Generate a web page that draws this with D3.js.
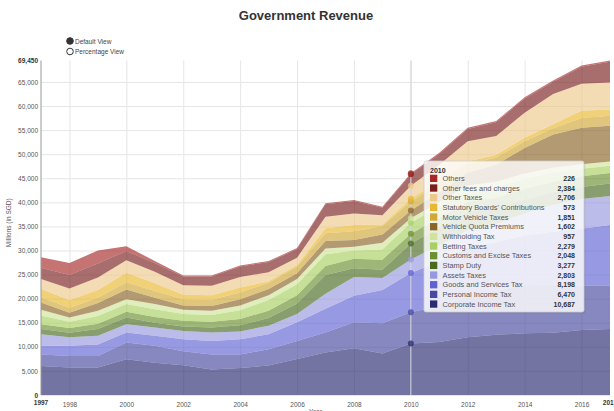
<!DOCTYPE html>
<html>
<head>
<meta charset="utf-8">
<script src="https://cdn.jsdelivr.net/npm/d3@7"></script>
<style>
  body { margin: 0; background: #fff; font-family: "Liberation Sans", Arial, sans-serif; }
  .tick line { stroke: #e6e6e6; }
  .tick text { fill: #555; font-size: 6.5px; }
  .axis .domain { stroke: #aaa; }
</style>
</head>
<body>
<svg id="chart" width="614" height="411"></svg>
<script>
// years and revenue series (millions SGD)
const years = [1997, 1998, 1999, 2000, 2001, 2002, 2003, 2004, 2005, 2006, 2007,
  2008, 2009, 2010, 2011, 2012, 2013, 2014, 2015, 2016, 2017];

const corporateIncomeTax = [6000, 5700, 5700, 7400, 6700, 6200, 5300, 5600, 6100, 7500, 8800, 9700, 8600, 10687, 11000, 12000, 12500, 12800, 12900, 13500, 13700];
const personalIncomeTax = [2400, 2400, 2400, 3500, 3500, 2900, 3100, 2800, 3400, 3700, 4200, 5400, 6300, 6470, 7500, 8300, 9200, 10000, 10000, 9200, 9000];
const goodsServicesTax = [1800, 2100, 2400, 2100, 2100, 2500, 2800, 3200, 3100, 3900, 4900, 5500, 6900, 8198, 9200, 10200, 10000, 10300, 11000, 11800, 12600];
const assetsTaxes = [2400, 1800, 1800, 1700, 1700, 1700, 1800, 1600, 1800, 1700, 3100, 3900, 2500, 2803, 3400, 3700, 3800, 4600, 5600, 6200, 6000];
const stampDuty = [1100, 900, 1400, 1400, 1000, 900, 1000, 1300, 1600, 2200, 3900, 1800, 1700, 3277, 3600, 3800, 3300, 2900, 2600, 2500, 2600];
const customsExcise = [1000, 1000, 1100, 1200, 1200, 1200, 1200, 1300, 1500, 1700, 1900, 2000, 2100, 2048, 2100, 2100, 2200, 2200, 2200, 2200, 2200];
const bettingTaxes = [1800, 1300, 1600, 1600, 1600, 1400, 1400, 1800, 2200, 2300, 2400, 1700, 2100, 2279, 2300, 2300, 2200, 2100, 1900, 1600, 1500];
const withholdingTax = [1200, 900, 1100, 1000, 1100, 900, 900, 1000, 1000, 1100, 1200, 800, 1400, 957, 1000, 1100, 1100, 1100, 1000, 900, 900];
const vehicleQuota = [1500, 1000, 1600, 2000, 1300, 900, 1000, 1300, 1300, 1200, 1600, 1400, 1700, 1602, 2000, 2700, 3500, 5300, 6900, 7600, 7400];
const motorVehicle = [1100, 1000, 1100, 1500, 1400, 1300, 1300, 1400, 1300, 1400, 1600, 1800, 1800, 1851, 1800, 1700, 1500, 1400, 1300, 2000, 2100];
const statutoryBoards = [1700, 1600, 1600, 2000, 1600, 900, 900, 1000, 300, 300, 1000, 1300, 300, 573, 600, 600, 600, 700, 800, 1500, 1300];
const otherTaxes = [2100, 2400, 2600, 2600, 2400, 2000, 2000, 2200, 1900, 1500, 2400, 2400, 1900, 2706, 3300, 4200, 3900, 5200, 6300, 5600, 5600];
const otherFees = [2300, 2800, 2900, 1900, 1800, 1800, 1900, 2200, 2100, 1800, 2600, 2600, 1600, 2384, 2250, 2550, 2850, 2950, 2550, 3550, 4300];
const others = [2200, 2500, 2700, 1000, 400, 200, 200, 200, 200, 200, 200, 200, 200, 226, 250, 250, 250, 250, 250, 250, 250];

// bottom to top
const seriesNames = ["Corporate Income Tax", "Personal Income Tax", "Goods and Services Tax", "Assets Taxes",
  "Stamp Duty", "Customs and Excise Taxes", "Betting Taxes", "Withholding Tax", "Vehicle Quota Premiums",
  "Motor Vehicle Taxes", "Statutory Boards' Contributions", "Other Taxes", "Other fees and charges", "Others"];
const seriesValues = [corporateIncomeTax, personalIncomeTax, goodsServicesTax, assetsTaxes, stampDuty,
  customsExcise, bettingTaxes, withholdingTax, vehicleQuota, motorVehicle, statutoryBoards, otherTaxes, otherFees, others];
const seriesColors = ["#2a2a70", "#4848a0", "#6062d2", "#9898e0", "#4a6a20", "#6a9030", "#a8d060", "#cfe39a",
  "#8a6428", "#d0a838", "#e8b830", "#ecc98a", "#7a1e1e", "#a82828"];

const yTicks = [0, 5000, 10000, 15000, 20000, 25000, 30000, 35000, 40000, 45000, 50000, 55000, 60000, 65000];
const xTicks = [1998, 2000, 2002, 2004, 2006, 2008, 2010, 2012, 2014, 2016];
const hoverYear = 2010;

const table = years.map((yr, i) => {
  const row = { year: yr };
  seriesNames.forEach((n, k) => { row[n] = seriesValues[k][i]; });
  return row;
});

const svg = d3.select("#chart");
const margin = { top: 60.5, left: 41, right: 4, bottom: 16 };
const width = 614 - margin.left - margin.right;
const height = 411 - margin.top - margin.bottom;

const stacked = d3.stack().keys(seriesNames)(table);
const yMax = d3.max(stacked[stacked.length - 1], d => d[1]);

const x = d3.scaleLinear().domain([1997, 2017]).range([0, width]);
const y = d3.scaleLinear().domain([0, yMax]).range([height, 0]);
const fmt = d3.format(",");

// title
svg.append("text")
  .attr("x", 306).attr("y", 20)
  .attr("text-anchor", "middle")
  .style("font-size", "13px").style("font-weight", "bold").style("fill", "#333")
  .text("Government Revenue");

// view switch
const views = ["Default View", "Percentage View"];
views.forEach((v, i) => {
  svg.append("circle")
    .attr("cx", 70).attr("cy", 41 + i * 10.5).attr("r", 3.3)
    .attr("fill", i === 0 ? "#333" : "#fff")
    .attr("stroke", "#333").attr("stroke-width", 1);
  svg.append("text")
    .attr("x", 75).attr("y", 43.5 + i * 10.5)
    .style("font-size", "6.5px").style("fill", "#444")
    .text(v);
});

const g = svg.append("g").attr("transform", `translate(${margin.left},${margin.top})`);

// grid
g.append("g").attr("class", "axis")
  .call(d3.axisLeft(y).tickValues(yTicks).tickSize(-width).tickFormat(fmt).tickPadding(3))
  .call(a => a.select(".domain").remove());
g.append("g").attr("class", "axis")
  .attr("transform", `translate(0,${height})`)
  .call(d3.axisBottom(x).tickValues(xTicks).tickSize(-height).tickFormat(d3.format("d")).tickPadding(7))
  .call(a => a.select(".domain").remove());

// bold min/max labels
g.append("text").attr("x", -3).attr("y", 2.5).attr("text-anchor", "end")
  .style("font-size", "6.5px").style("font-weight", "bold").style("fill", "#333")
  .text(fmt(yMax));
g.selectAll(".axis .tick text").filter(d => d === 0).style("font-weight", "bold").style("fill", "#333");
[1997, 2017].forEach(yr => {
  g.append("text").attr("x", x(yr)).attr("y", height + 9.5).attr("text-anchor", "middle")
    .style("font-size", "6.5px").style("font-weight", "bold").style("fill", "#333")
    .text(yr);
});

// stacked areas
const area = d3.area()
  .x(d => x(d.data.year))
  .y0(d => y(d[0]))
  .y1(d => y(d[1]));

g.append("g").selectAll("path")
  .data(stacked)
  .join("path")
  .attr("d", area)
  .attr("fill", (d, i) => seriesColors[i])
  .attr("fill-opacity", 0.65);

// y axis line
g.append("line").attr("x1", 0).attr("x2", 0).attr("y1", 0).attr("y2", height)
  .attr("stroke", "#999").attr("stroke-width", 1);

// axis titles
svg.append("text")
  .attr("transform", `translate(11,${margin.top + height / 2 - 5}) rotate(-90)`)
  .attr("text-anchor", "middle")
  .style("font-size", "6.5px").style("fill", "#555")
  .text("Millions (in SGD)");
svg.append("text")
  .attr("x", margin.left + width / 2 - 10).attr("y", 414)
  .attr("text-anchor", "middle")
  .style("font-size", "6.5px").style("fill", "#555")
  .text("Year");

// hover guide at 2010
const hi = years.indexOf(hoverYear);
const hx = x(hoverYear);
g.append("line").attr("x1", hx).attr("x2", hx).attr("y1", 0).attr("y2", height)
  .attr("stroke", "#d8d8e0").attr("stroke-width", 1.2).attr("opacity", 0.9);
g.append("g").selectAll("circle")
  .data(stacked)
  .join("circle")
  .attr("cx", hx)
  .attr("cy", d => y(d[hi][1]))
  .attr("r", 3)
  .attr("fill", (d, i) => seriesColors[i])
  .attr("fill-opacity", 0.75);

// tooltip
const tip = svg.append("g").attr("transform", "translate(424,161)");
tip.append("rect")
  .attr("x", 1.5).attr("y", 1.5).attr("width", 160).attr("height", 151).attr("rx", 2)
  .attr("fill", "#000").attr("opacity", 0.06);
tip.append("rect")
  .attr("width", 160).attr("height", 151).attr("rx", 2)
  .attr("fill", "#fff").attr("fill-opacity", 0.82)
  .attr("stroke", "#ccc").attr("stroke-width", 0.8);
tip.append("text").attr("x", 6).attr("y", 11.5)
  .style("font-size", "7px").style("font-weight", "bold").style("fill", "#333")
  .text(hoverYear);

const rows = seriesNames.map((n, k) => ({ name: n, value: seriesValues[k][hi], color: seriesColors[k] })).reverse();
const row = tip.selectAll("g.row")
  .data(rows)
  .join("g")
  .attr("class", "row")
  .attr("transform", (d, i) => `translate(0,${17.3 + i * 9.67})`);
row.append("rect")
  .attr("x", 6).attr("y", -3.6).attr("width", 7.3).attr("height", 7.3)
  .attr("fill", d => d.color);
row.append("text")
  .attr("x", 18.5).attr("y", 2.6)
  .style("font-size", "7.4px").style("fill", "#555")
  .text(d => d.name);
row.append("text")
  .attr("x", 151).attr("y", 2.6).attr("text-anchor", "end")
  .style("font-size", "7px").style("font-weight", "bold").style("fill", "#333")
  .text(d => fmt(d.value));
</script>
</body>
</html>
